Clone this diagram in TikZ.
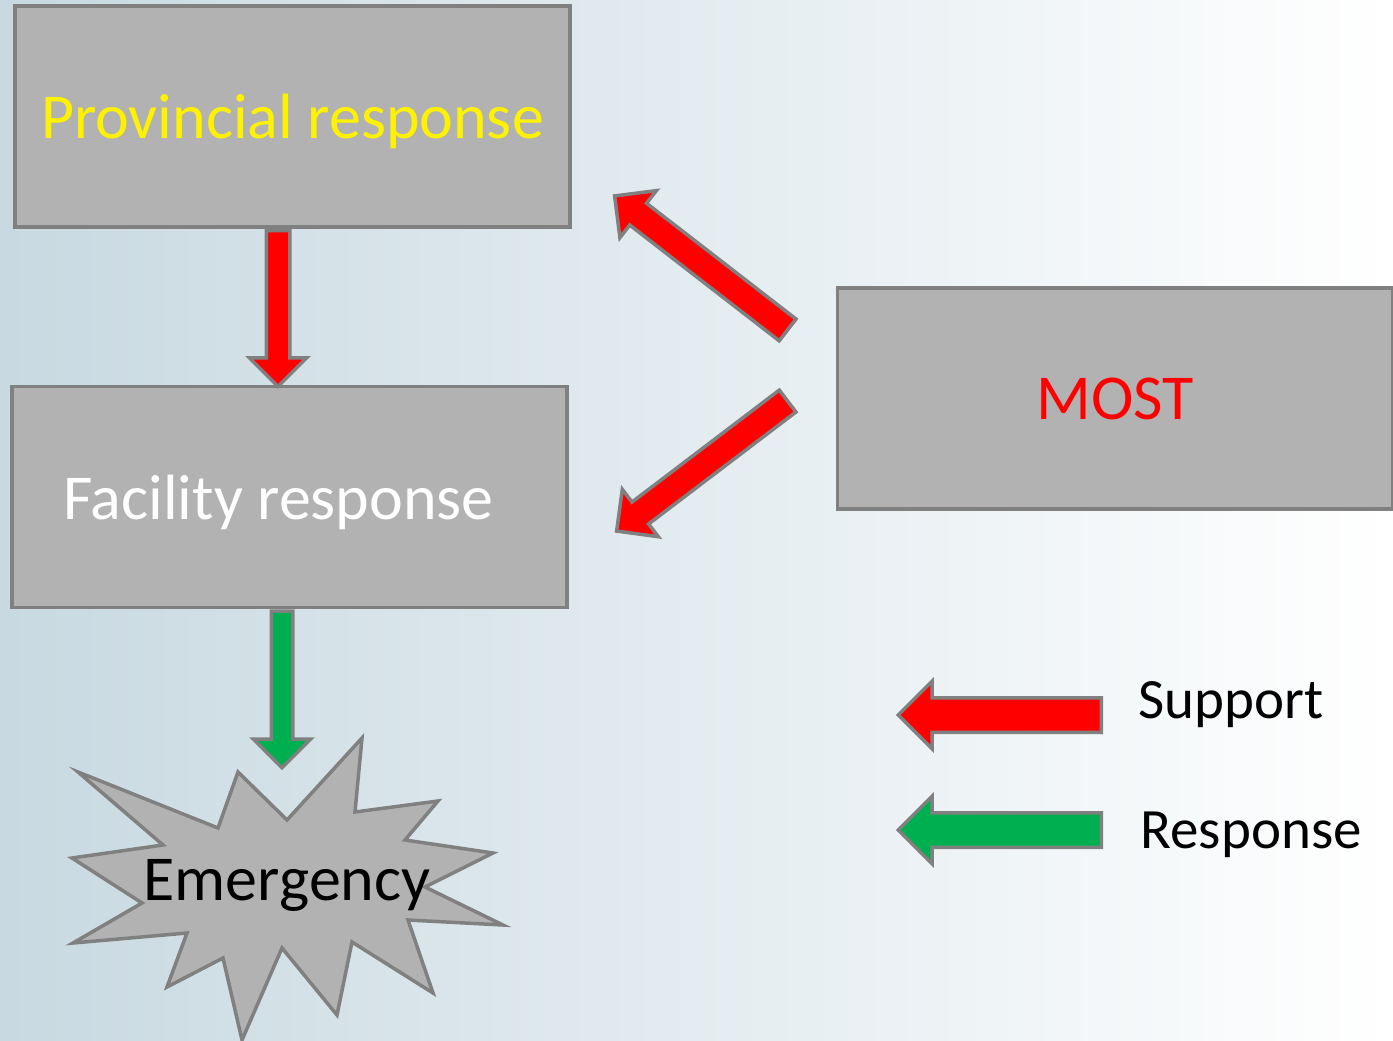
\documentclass[tikz,border=0pt]{standalone}
\usepackage{fontspec}
\setmainfont{Carlito}
\usetikzlibrary{calc, shapes.arrows}
\definecolor{boxgray}{HTML}{B2B2B2}
\definecolor{edgegray}{HTML}{808080}
\definecolor{bgblue}{HTML}{C8D9E1}
\definecolor{respgreen}{HTML}{00B050}
\tikzset{
  bigfont/.style = {font=\fontsize{64}{70}\selectfont, text depth=0pt},
  box/.style = {rectangle, draw=edgegray, line width=3.5pt, fill=boxgray,
    minimum width=555pt, minimum height=221pt, inner sep=0pt, bigfont},
  fat_arr/.style = {single arrow, draw=edgegray, line width=3.5pt,
    inner xsep=0pt, inner ysep=10pt, single arrow head extend=17pt,
    anchor=tail},
  legend/.style = {anchor=base west, font=\fontsize{57}{64}\selectfont}}

% name, options, from, to
\newcommand{\blockarrow}[4]{%
  \path let \p1 = ($(#4)-(#3)$), \n1 = {veclen(\x1,\y1)},
    \n2 = {atan2(\y1,\x1)} in
    node [fat_arr, #2, minimum height=\n1, rotate=\n2] (#1) at (#3) {};}

\begin{document}
\begin{tikzpicture}[x=1pt, y=1pt]
\useasboundingbox (0,0) rectangle (1393,-1041);
\fill [left color=bgblue, right color=white] (0,0) rectangle (1393,-1041);

\node [box, text=yellow] (prov) at (292.5,-116.5) {Provincial response};
\node [box, text=white] (fac) at (289.5,-497) {\hspace*{-22pt}Facility response};
\node [box, text=red] (most) at (1115,-398.5) {MOST};

% the burst
\filldraw [fill=boxgray, draw=edgegray, line width=3.5pt, line join=miter]
  (78,-772) -- (218,-828) -- (238,-772) -- (287,-820) -- (362,-738)
  -- (355,-812) -- (438,-801) -- (405,-840) -- (493,-853) -- (425,-887)
  -- (503,-925) -- (408,-920) -- (433,-993) -- (352,-942) -- (337,-1015)
  -- (282,-948) -- (242,-1040) -- (223,-958) -- (167,-987) -- (187,-933)
  -- (73,-943) -- (142,-903) -- (72,-858) -- (163,-845) -- cycle;
\node [bigfont] (emerg) at (287,-880) {Emergency};

\coordinate (pf) at (278,0);
\coordinate (burst) at (282,-766);
\coordinate (most_a) at (789,-331);
\coordinate (prov_in) at (616,-197);
\coordinate (most_b) at (789,-400);
\coordinate (fac_in) at (618,-530);
\coordinate (sup_tail) at (1103,-715);
\coordinate (sup_tip) at (900,-715);
\coordinate (res_tail) at (1103,-830);
\coordinate (res_tip) at (900,-830);

\blockarrow{prov_fac}{fill=red}{prov.south -| pf}{fac.north -| pf}
\blockarrow{fac_em}{fill=respgreen, inner ysep=9pt,
  single arrow head extend=18pt}{fac.south -| burst}{burst}
\blockarrow{most_prov}{fill=red, inner ysep=12pt,
  single arrow head extend=16pt}{most_a}{prov_in}
\blockarrow{most_fac}{fill=red, inner ysep=12pt,
  single arrow head extend=16pt}{most_b}{fac_in}

\blockarrow{sup_arr}{fill=red, inner ysep=15.5pt,
  single arrow head extend=16.5pt}{sup_tail}{sup_tip}
\blockarrow{res_arr}{fill=respgreen, inner ysep=15.5pt,
  single arrow head extend=16.5pt}{res_tail}{res_tip}
\node [legend] (sup_txt) at (1135,-718) {Support};
\node [legend] (res_txt) at (1137,-848) {Response};
\end{tikzpicture}
\end{document}
